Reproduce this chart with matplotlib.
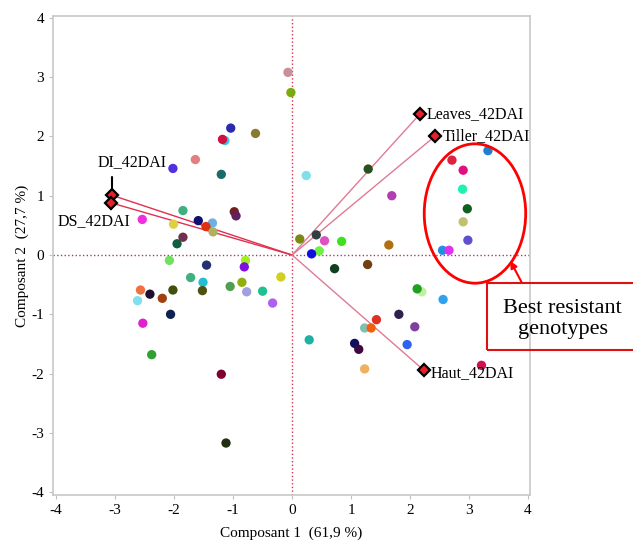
import matplotlib.pyplot as plt
import matplotlib as mpl
from matplotlib.patches import Ellipse, Rectangle
mpl.rcParams.update({'font.family': ['Liberation Serif', 'DejaVu Serif'],
                     'axes.unicode_minus': False})

#%% genotype scores on the first two components
pc1 = [-0.07, -0.02, -1.04, -0.62, -1.14, -1.18, -1.64, -2.02, -1.20, 0.24,
       -1.85, -0.98, -0.95, -1.59, -1.35, -1.46, -1.34, -2.54, -2.01, -1.85,
       -1.95, 0.13, 0.41, 0.55, 0.46, 0.33, 0.84, 1.29, 1.69, 1.64,
       3.32, 2.71, 2.90, 2.89, 2.97, 2.90, 2.98, 2.55, 2.66,
       -2.08, -1.45, -0.79, -0.81, -0.19, -1.72, -1.51, -0.85, -1.05, -0.77,
       -0.50, -0.33, -1.52, -2.02, -2.57, -2.62, -2.41, -2.20, -2.06, -2.53,
       -2.38, -1.20, -1.12, 0.29, 0.72, 1.28, 2.20, 2.12, 2.56, 1.81,
       1.43, 2.08, 1.23, 1.34, 1.95, 1.06, 1.13, 1.23, 3.21]
pc2 = [3.08, 2.74, 2.14, 2.05, 1.93, 1.95, 1.61, 1.46, 1.36, 1.34,
       0.75, 0.73, 0.66, 0.58, 0.54, 0.48, 0.39, 0.60, 0.52, 0.30,
       0.19, 0.27, 0.34, 0.24, 0.07, 0.02, 0.23, 1.45, 1.00, 0.17,
       1.76, 1.60, 1.43, 1.11, 0.78, 0.56, 0.25, 0.08, 0.08,
       -0.09, -0.17, -0.09, -0.20, -0.37, -0.38, -0.46, -0.46, -0.53, -0.62,
       -0.61, -0.81, -0.60, -0.59, -0.59, -0.77, -0.66, -0.73, -1.00, -1.15,
       -1.68, -2.01, -3.17, -1.43, -0.23, -0.16, -0.62, -0.57, -0.75, -1.00,
       -1.09, -1.21, -1.23, -1.23, -1.51, -1.49, -1.59, -1.92, -1.86]
colors = ['#c9909a', '#7aaa10', '#2a2ab0', '#8a7a30', '#40c0e0', '#d01040', '#e08080', '#5030e0', '#1a6a6a', '#80e0e8',
          '#40b080', '#702020', '#602060', '#101070', '#70b0e0', '#e03010', '#b0b060', '#f030e0', '#e0d040', '#703050',
          '#106040', '#7a8a10', '#304040', '#e050c0', '#70f040', '#1010e0', '#40e020', '#2a5020', '#b040b0', '#b07010',
          '#2080d0', '#e02040', '#e01080', '#20f0b0', '#106020', '#c0c070', '#6050d0', '#2090e0', '#e030f0',
          '#70e060', '#203070', '#a0f020', '#8010e0', '#d0d020', '#40b080', '#20c0d0', '#90b010', '#50a050', '#a0a0e0',
          '#20c090', '#b060f0', '#505010', '#405010', '#f07040', '#80e0f0', '#201030', '#a04010', '#102050', '#e020d0',
          '#30a030', '#800030', '#203010', '#20b0a0', '#104020', '#704010', '#c0f0a0', '#20a020', '#30a0f0', '#302050',
          '#e03020', '#8040a0', '#80c0b0', '#f06010', '#3060f0', '#101060', '#400840', '#f0b060', '#d01050']

#%% variable loadings
var_names = ['Leaves_42DAI', 'Tiller_42DAI', 'DI_42DAI', 'DS_42DAI', 'Haut_42DAI']
load1 = [2.16, 2.43, -3.06, -3.07, 2.23]
load2 = [2.37, 2.01, 1.01, 0.88, -1.94]

#%%
fig = plt.figure(figsize=(6.33, 5.43), dpi=100)
ax = fig.add_axes([0.084, 0.088, 0.753, 0.8825])

ax.axvline(0, ls=':', color='#d03050', lw=1, zorder=1)
ax.axhline(0, ls=':', color='#a04060', lw=1, zorder=1)

for i, name in enumerate(var_names):
    c = '#e03050' if name.startswith('D') else '#e07a95'
    ax.plot([0, load1[i]], [0, load2[i]], color=c, lw=1, zorder=2)

ax.scatter(pc1, pc2, s=45, c=colors, edgecolors='none', zorder=3)

ax.plot(load1, load2, ls='none', marker='D', ms=6.5, mfc='#e8202a', mec='black', mew=1.6, zorder=4)

ax.annotate('Leaves_42DAI', (load1[0], load2[0]), xytext=(5, 0), textcoords='offset points',
            fontsize=11.5, va='center', ha='left')
ax.annotate('Tiller_42DAI', (load1[1], load2[1]), xytext=(5, 0), textcoords='offset points',
            fontsize=11.5, va='center', ha='left')
ax.annotate('Haut_42DAI', (load1[4], load2[4]), xytext=(5, -2), textcoords='offset points',
            fontsize=11.5, va='center', ha='left')
ax.annotate('DI_42DAI', (load1[2], load2[2]), xytext=(15, 24), textcoords='offset points',
            fontsize=11.5, va='center', ha='center',
            arrowprops=dict(arrowstyle='-', color='black', lw=1.5, shrinkA=3, shrinkB=3,
                            connectionstyle='angle,angleA=0,angleB=90,rad=0', relpos=(0.25, 0)))
ax.annotate('DS_42DAI', (load1[3], load2[3]), xytext=(-12, -13), textcoords='offset points',
            fontsize=11.5, va='center', ha='center',
            arrowprops=dict(arrowstyle='-', color='black', lw=1.5, shrinkA=1, shrinkB=3,
                            connectionstyle='angle,angleA=0,angleB=90,rad=0', relpos=(0.77, 1)))

ax.add_patch(Ellipse((3.10, 0.70), 1.72, 2.35, fill=False, ec='red', lw=2, zorder=5))

ax.set_xlim(-4.05, 4.03)
ax.set_ylim(-4.05, 4.03)
ax.set_xticks(range(-4, 5))
ax.set_yticks(range(-4, 5))
ax.tick_params(labelsize=11, length=3, color='#c0c0c0')
for sp in ax.spines.values():
    sp.set_color('#c8c8c8')
    sp.set_linewidth(1.2)
ax.set_xlabel('Composant 1  (61,9 %)', fontsize=11, labelpad=7)
ax.set_ylabel('Composant 2  (27,7 %)', fontsize=11, labelpad=2)

# callout box, runs off the right edge
fig.patches.append(Rectangle((0.769, 0.3554), 0.3, 0.1226, transform=fig.transFigure,
                             fill=False, ec='#e01010', lw=1.5, figure=fig))
fig.text(0.889, 0.4130, 'Best resistant\ngenotypes', fontsize=16, ha='center', va='center',
         linespacing=1.15)
ax.annotate('', xy=(3.7, -0.1), xytext=(522 / 633, 1 - 283 / 543), textcoords='figure fraction',
            arrowprops=dict(arrowstyle='-|>', color='red', lw=1.5, mutation_scale=10, shrinkA=0, shrinkB=0),
            annotation_clip=False)

plt.savefig('out.png', dpi=100)
